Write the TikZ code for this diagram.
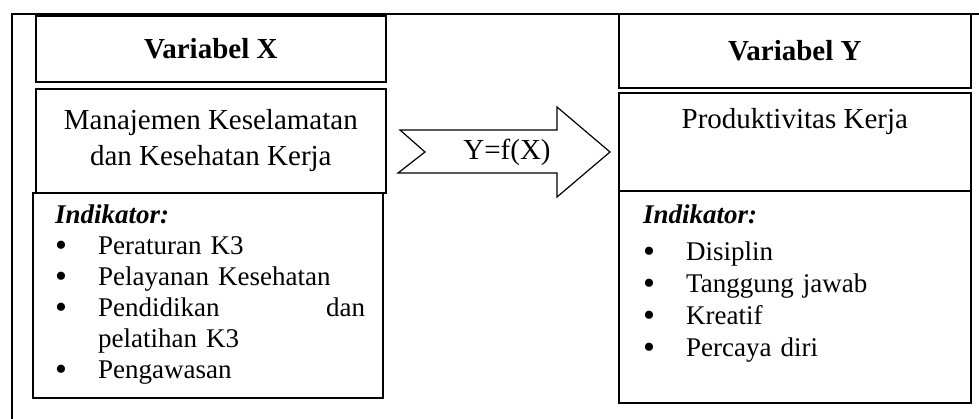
\documentclass[tikz,border=0pt]{standalone}
\usepackage{fontspec}
\setmainfont{Liberation Serif}
\usetikzlibrary{positioning}
\newcommand{\Butir}{\makebox[43pt][l]{\smash{\raisebox{-1.5pt}{\fontsize{34}{31}\selectfont\textbullet}}}}

\begin{document}
\begin{tikzpicture}[x=1pt, y=-1pt,
		panel/.style={rectangle, draw=black, line width=1.6pt, inner sep=0pt, anchor=north west, align=center},
		judul/.style={font={\fontsize{29}{36}\selectfont}},
		daftar/.style={font={\fontsize{27}{31}\selectfont}, align=left, anchor=north west, inner sep=0pt, text width=310pt},
		panah/.style={draw=black, line width=1.2pt, line join=miter}
	]
		\useasboundingbox (0,0) rectangle (979,419);
		% bingkai luar
		\draw[line width=1.6pt] (979,14) -- (12,14) -- (12,419);
		% variabel X
		\node[panel, judul, font={\fontsize{29}{36}\selectfont\bfseries}, minimum width=350pt, minimum height=66pt] (varX) at (35,15) {Variabel X};
		\node[panel, judul, minimum width=350pt, minimum height=104pt] (mkk) at (35,88) {Manajemen Keselamatan\\dan Kesehatan Kerja};
		\node[panel, minimum width=350pt, minimum height=205pt] (indX) at (32,192) {};
		\node[daftar] (indXisi) at (55,205) {\textbf{\textit{Indikator:}}\\
			\Butir Peraturan K3\\
			\Butir Pelayanan Kesehatan\\
			\Butir Pendidikan\hfill dan\\
			\hspace*{43pt}pelatihan K3\\
			\Butir Pengawasan};
		% fungsi
		\node[judul] (fungsi) at (507,152) {Y=f(X)};
		\draw[panah] (400,130) -- (557,130) -- (557,107) -- (610,152) -- (557,197) -- (557,173) -- (398,173) -- (425,152) -- cycle;
		% variabel Y
		\node[panel, judul, font={\fontsize{29}{36}\selectfont\bfseries}, minimum width=352pt, minimum height=74pt] (varY) at (618,13) {Variabel Y};
		\node[panel, judul, minimum width=352pt, minimum height=98pt] (prod) at (618,92) {Produktivitas Kerja\\\strut};
		\node[panel, minimum width=352pt, minimum height=212pt] (indY) at (618,190) {};
		\node[daftar, font={\fontsize{27}{32}\selectfont}, text width=300pt] (indYisi) at (643,205) {\textbf{\textit{Indikator:}}\\[5pt]
			\Butir Disiplin\\
			\Butir Tanggung jawab\\
			\Butir Kreatif\\
			\Butir Percaya diri};
	\end{tikzpicture}
\end{document}
